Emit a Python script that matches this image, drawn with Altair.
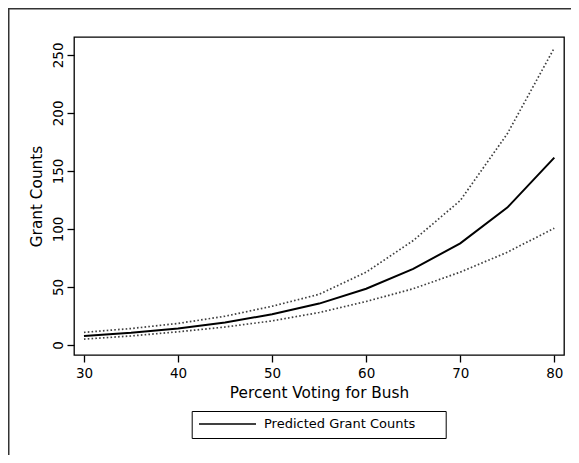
import altair as alt
import pandas as pd

# ---- data ----
pct = [30, 35, 40, 45, 50, 55, 60, 65, 70, 75, 80]
predicted = [7.7, 10.5, 14.3, 19.5, 26.5, 35.7, 48.5, 65.6, 87.6, 118.4, 161.5]
upper = [10.9, 14.2, 18.6, 24.8, 33.4, 43.7, 62.8, 90.0, 124.5, 182.0, 256.0]
lower = [5.1, 7.8, 11.4, 15.5, 20.8, 28.0, 37.5, 48.5, 62.8, 79.9, 100.7]
x_ticks = [30, 40, 50, 60, 70, 80]
y_ticks = [0, 50, 100, 150, 200, 250]
series_name = "Predicted Grant Counts"

W, H = 490, 318
FONT = "DejaVu Sans"

df_main = pd.DataFrame({"pct": pct, "val": predicted, "series": [series_name] * len(pct)})
df_ci = pd.DataFrame({
    "pct": pct + pct,
    "val": upper + lower,
    "band": ["upper"] * len(pct) + ["lower"] * len(pct),
})

xenc = alt.X("pct:Q",
             scale=alt.Scale(domain=[28.94, 81.03], nice=False, zero=False),
             axis=alt.Axis(values=x_ticks, title="Percent Voting for Bush",
                           labelPadding=4, titlePadding=6, format="d"))
yenc = alt.Y("val:Q",
             scale=alt.Scale(domain=[-8.6, 265.4], nice=False, zero=False),
             axis=alt.Axis(values=y_ticks, title="Grant Counts", labelAngle=270,
                           labelAlign="center", labelBaseline="alphabetic",
                           labelPadding=5, titlePadding=7, format="d"))

outer = alt.Chart(pd.DataFrame({"k": [0]})).mark_rect(
    fillOpacity=0, stroke="#333333", strokeWidth=1.5
).encode(x=alt.value(-65.25), x2=alt.value(W + 100),
         y=alt.value(-28.25), y2=alt.value(H + 200))

ci = alt.Chart(df_ci).mark_line(
    color="#404040", strokeWidth=1.7, strokeDash=[1.6, 2.2]
).encode(x=xenc, y=yenc, detail="band:N")

main = alt.Chart(df_main).mark_line(strokeWidth=2).encode(
    x=xenc, y=yenc,
    color=alt.Color("series:N", scale=alt.Scale(range=["black"]),
                    legend=alt.Legend(
                        orient="none", legendX=117.7, legendY=374,
                        title=" ", titleOrient="right", titlePadding=24,
                        symbolType="M-5,0H5", symbolSize=130,
                        symbolStrokeWidth=1.5, symbolOffset=22.8,
                        labelOffset=30, padding=6.5,
                        strokeColor="black",
                        labelFont=FONT, labelFontSize=13, labelColor="black",
                        titleFont=FONT, titleFontSize=13)),
)

chart = alt.layer(outer, ci, main).properties(
    width=W, height=H,
    autosize=alt.AutoSizeParams(type="none"),
    padding={"left": 66, "top": 29, "right": 7, "bottom": 100},
).configure_view(
    stroke="black", strokeWidth=1.3
).configure_axis(
    domain=False, grid=False, ticks=True, tickSize=7, tickColor="black",
    tickWidth=1.3, labelFont=FONT, labelFontSize=13.5, labelColor="black",
    titleFont=FONT, titleFontSize=15.3, titleFontWeight="normal", titleColor="black",
)

chart.save("out.html", embed_options={"renderer": "svg", "actions": False})
